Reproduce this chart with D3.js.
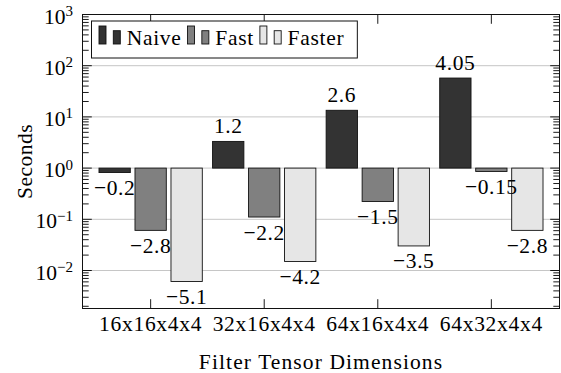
<!DOCTYPE html>
<html>
<head>
<meta charset="utf-8">
<script src="https://cdn.jsdelivr.net/npm/d3@7"></script>
<style>
  html, body { margin: 0; padding: 0; background: #fff; }
</style>
</head>
<body>
<svg id="chart" width="561" height="373"></svg>
<script>
// Run times per filter size, stored as natural logs of seconds (the printed labels).
const categories = ["16x16x4x4", "32x16x4x4", "64x16x4x4", "64x32x4x4"];
const seriesNames = ["Naive", "Fast", "Faster"];
const naive  = [-0.2, 1.2, 2.6, 4.05];
const fast   = [-2.8, -2.2, -1.5, -0.15];
const faster = [-5.1, -4.2, -3.5, -2.8];
const seriesFills = ["#333333", "#808080", "#e6e6e6"];

// Decade ticks on the log axis and their exponent labels.
const majorTicks = [1e-2, 1e-1, 1e0, 1e1, 1e2, 1e3];
const majorExponents = ["\u22122", "\u22121", "0", "1", "2", "3"];

const yLabel = "Seconds";
const xLabel = "Filter Tensor Dimensions";

const series = [naive, fast, faster];
const FONT = '"Liberation Serif"';

const svg = d3.select("#chart");
const frame = { left: 82.5, right: 559.5, top: 14.5, bottom: 308.5 };

const x = d3.scalePoint().domain(categories).range([frame.left, frame.right]).padding(0.6);
const xo = d3.scaleBand().domain(seriesNames).range([-51.65, 51.65]).paddingInner(0.13);
const y = d3.scaleLog().domain([Math.pow(10, -2.742), 1000]).range([frame.bottom, frame.top]);

const fmt = v => String(v).replace("-", "\u2212");

// Minor ticks: 2..9 within each decade, inside the visible range.
const minorTicks = [];
for (let e = -3; e < 3; e++) {
  for (let k = 2; k <= 9; k++) {
    const v = k * Math.pow(10, e);
    if (v >= y.domain()[0] && v <= y.domain()[1]) minorTicks.push(v);
  }
}

// Horizontal grid at each decade.
svg.append("g").selectAll("line").data(majorTicks).join("line")
  .attr("x1", frame.left).attr("x2", frame.right)
  .attr("y1", d => y(d)).attr("y2", d => y(d))
  .attr("stroke", "#c6c6c6").attr("stroke-width", 1);

// Inward ticks on left and right.
const tickG = svg.append("g").attr("stroke", "#000").attr("stroke-width", 0.9);
[[frame.left, 1], [frame.right, -1]].forEach(([x0, dir]) => {
  tickG.append("g").selectAll("line").data(minorTicks).join("line")
    .attr("x1", x0).attr("x2", x0 + dir * 6.2)
    .attr("y1", d => y(d)).attr("y2", d => y(d));
  tickG.append("g").selectAll("line").data(majorTicks).join("line")
    .attr("x1", x0).attr("x2", x0 + dir * 9.3)
    .attr("y1", d => y(d)).attr("y2", d => y(d));
});
// Inward category ticks on bottom and top.
[[frame.bottom, -1], [frame.top, 1]].forEach(([y0, dir]) => {
  tickG.append("g").selectAll("line").data(categories).join("line")
    .attr("x1", d => x(d)).attr("x2", d => x(d))
    .attr("y1", y0).attr("y2", y0 + dir * 9.3);
});

// Bars, hanging from 10^0.
const base = y(1);
const bars = svg.append("g");
series.forEach((vals, si) => {
  bars.append("g").selectAll("rect").data(vals).join("rect")
    .attr("x", (d, i) => x(categories[i]) + xo(seriesNames[si]))
    .attr("width", xo.bandwidth())
    .attr("y", d => Math.min(base, y(Math.exp(d))))
    .attr("height", d => Math.abs(base - y(Math.exp(d))))
    .attr("fill", seriesFills[si])
    .attr("stroke", "#111").attr("stroke-width", 0.9);
});

// Axis frame.
svg.append("rect")
  .attr("x", frame.left).attr("y", frame.top)
  .attr("width", frame.right - frame.left).attr("height", frame.bottom - frame.top)
  .attr("fill", "none").attr("stroke", "#111").attr("stroke-width", 1);

// Value labels near each bar.
const labels = svg.append("g").attr("text-anchor", "middle");
series.forEach((vals, si) => {
  labels.append("g").selectAll("text").data(vals).join("text")
    .style("font-family", FONT).style("font-size", "21.5px").style("letter-spacing", "0.6px")
    .attr("x", (d, i) => x(categories[i]) + xo(seriesNames[si]) + xo.bandwidth() / 2)
    .attr("y", d => d >= 0 ? y(Math.exp(d)) - 8 : y(Math.exp(d)) + 22.5)
    .text(d => fmt(d));
});

// Y tick labels: 10 with a raised exponent.
const yt = svg.append("g").attr("text-anchor", "end");
majorTicks.forEach((t, i) => {
  const txt = yt.append("text").attr("x", 73).attr("y", y(t) + 9)
    .style("font-family", FONT).style("font-size", "21.5px");
  txt.append("tspan").text("10");
  txt.append("tspan").attr("dy", -7.6).style("font-size", "15px").text(majorExponents[i]);
});

// X tick labels.
svg.append("g").attr("text-anchor", "middle")
  .selectAll("text").data(categories).join("text")
  .style("font-family", FONT).style("font-size", "21.5px").style("letter-spacing", "0.7px")
  .attr("x", d => x(d)).attr("y", 331).text(d => d);

// Axis titles.
svg.append("text").attr("text-anchor", "middle")
  .style("font-family", FONT).style("font-size", "21.5px").style("letter-spacing", "1.1px")
  .attr("x", (frame.left + frame.right) / 2).attr("y", 369).text(xLabel);
svg.append("text").attr("text-anchor", "middle")
  .style("font-family", FONT).style("font-size", "21.5px").style("letter-spacing", "0.5px")
  .attr("transform", `translate(31.7,${(frame.top + frame.bottom) / 2}) rotate(-90)`).text(yLabel);

// Legend.
const leg = svg.append("g");
const box = leg.append("rect").attr("fill", "#fff").attr("stroke", "#111").attr("stroke-width", 1);
let cx = 99;
seriesNames.forEach((name, si) => {
  leg.append("rect").attr("x", cx).attr("y", 26).attr("width", 7).attr("height", 18)
    .attr("fill", seriesFills[si]).attr("stroke", "#111").attr("stroke-width", 0.9);
  leg.append("rect").attr("x", cx + 14.3).attr("y", 30.7).attr("width", 7).attr("height", 13.3)
    .attr("fill", seriesFills[si]).attr("stroke", "#111").attr("stroke-width", 0.9);
  const t = leg.append("text").attr("x", cx + 27.7).attr("y", 45)
    .style("font-family", FONT).style("font-size", "21.5px").style("letter-spacing", "0.7px").text(name);
  const w = t.node().getComputedTextLength();
  cx = cx + 27.7 + w + 6;
});
box.attr("x", 91.5).attr("y", 21).attr("width", cx - 6 + 13 - 91.5).attr("height", 37);
</script>
</body>
</html>
